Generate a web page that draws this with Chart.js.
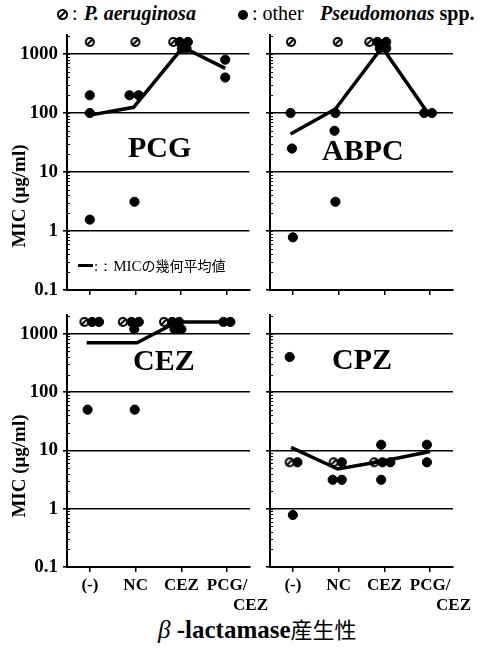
<!DOCTYPE html>
<html>
<head>
<meta charset="utf-8">
<title>MIC</title>
<script src="https://cdn.jsdelivr.net/npm/chart.js@4.4.1/dist/chart.umd.min.js"></script>
<style>
  body { margin: 0; width: 481px; height: 651px; background: #fff; position: relative; overflow: hidden; }
  canvas { position: absolute; }
  .t { position: absolute; white-space: nowrap; color: #000; font-family: "Liberation Serif", serif; line-height: 1; }
  .drug { font-size: 30px; font-weight: bold; }
  .ytitle { font-size: 19px; font-weight: bold; width: 140px; height: 20px; text-align: center; transform: rotate(-90deg); }
  .hat { display: inline-block; width: 7px; height: 7px; border: 2px solid #000; border-radius: 50%;
         background: linear-gradient(to bottom right, #fff 38%, #000 38%, #000 62%, #fff 62%); }
  .dot { display: inline-block; width: 10px; height: 10px; border-radius: 50%; background: #000; }
</style>
</head>
<body>

<div class="t" style="left:57px;top:3px;font-size:20px;"><span class="hat"></span></div>
<div class="t" style="left:72px;top:3px;font-size:20px;">:</div>
<div class="t" style="left:84px;top:3px;font-size:20px;font-weight:bold;font-style:italic;">P. aeruginosa</div>
<div class="t" style="left:238px;top:7px;"><span class="dot"></span></div>
<div class="t" style="left:252px;top:3px;font-size:20px;">: other</div>
<div class="t" style="left:320px;top:3px;font-size:20px;font-weight:bold;"><i>Pseudomonas</i> spp.</div>

<canvas id="pcgChart" width="255" height="275" style="left:0;top:25px"></canvas>
<canvas id="cezChart" width="285" height="305" style="left:0;top:305px"></canvas>
<canvas id="abpcChart" width="226" height="275" style="left:255px;top:25px"></canvas>
<canvas id="cpzChart" width="226" height="305" style="left:255px;top:305px"></canvas>

<div class="t drug" style="left:128px;top:132px;">PCG</div>
<div class="t drug" style="left:322px;top:135px;">ABPC</div>
<div class="t drug" style="left:133px;top:345px;">CEZ</div>
<div class="t drug" style="left:332px;top:344px;">CPZ</div>

<div class="t" style="left:78px;top:264px;width:15px;height:3px;background:#000;"></div>
<div class="t" style="left:94px;top:258px;font-size:15px;">:：MIC<span style="font-family:'Noto Sans CJK JP';font-size:14px;">の幾何平均値</span></div>

<div class="t ytitle" style="left:-51px;top:186px;">MIC (μg/ml)</div>
<div class="t ytitle" style="left:-51px;top:456px;">MIC (μg/ml)</div>

<div class="t" style="left:158px;top:617px;font-size:25px;"><i>β</i> <b>-lactamase</b><span style="font-family:'Noto Sans CJK JP';font-size:22px;">産生性</span></div>

<script>
var categories = ["(-)", "NC", "CEZ", ["PCG/", "           CEZ"]];
var yLabelValues = [0.1, 1, 10, 100, 1000];
var yMin = 0.1;
var yMax = 2100;

// PCG
var pcgAerugX = [0, 1, 1.83];
var pcgAerugY = [1600, 1600, 1600];
var pcgOtherX = [0, 0, 0, 0.87, 1.07, 0.98, 1.97, 2.15, 2.02, 2.12, 2.97, 2.97];
var pcgOtherY = [200, 100, 1.56, 200, 200, 3.13, 1600, 1600, 1250, 1250, 800, 400];
var pcgMeanX = [0, 0.96, 2.04, 2.97];
var pcgMeanY = [92, 125, 1300, 570];

// ABPC
var abpcAerugX = [-0.04, 0.98, 1.67];
var abpcAerugY = [1600, 1600, 1600];
var abpcOtherX = [-0.05, -0.02, 0, 0.93, 0.91, 0.93, 1.85, 2.04, 1.9, 2.04, 2.87, 3.04];
var abpcOtherY = [100, 25, 0.78, 100, 50, 3.13, 1600, 1600, 1250, 1250, 100, 100];
var abpcMeanX = [-0.05, 0.93, 1.95, 2.95];
var abpcMeanY = [44, 117, 1300, 100];

// CEZ
var cezAerugX = [-0.12, 0.72, 1.62];
var cezAerugY = [1600, 1600, 1600];
var cezOtherX = [0.05, 0.2, -0.05, 0.91, 1.07, 0.97, 0.98, 1.8, 1.95, 1.85, 2.0, 2.92, 3.07];
var cezOtherY = [1600, 1600, 50, 1600, 1600, 1200, 50, 1600, 1600, 1200, 1200, 1600, 1600];
var cezMeanX = [-0.07, 1.03, 1.9, 3.0];
var cezMeanY = [700, 700, 1600, 1600];

// CPZ
var cpzAerugX = [-0.07, 0.89, 1.78];
var cpzAerugY = [6.25, 6.25, 6.25];
var cpzOtherX = [-0.07, 0.1, 0, 1.07, 0.87, 1.07, 1.96, 2.13, 1.93, 1.93, 2.93, 2.93];
var cpzOtherY = [400, 6.25, 0.78, 6.25, 3.13, 3.13, 6.25, 6.25, 12.5, 3.13, 12.5, 6.25];
var cpzMeanX = [-0.04, 0.98, 1.95, 3.0];
var cpzMeanY = [11.3, 4.8, 6.5, 9.6];

// hatched marker for P. aeruginosa
var hatch = document.createElement('canvas');
hatch.width = 12;
hatch.height = 12;
var hc = hatch.getContext('2d');
hc.fillStyle = '#000';
hc.beginPath();
hc.arc(6, 6, 5, 0, Math.PI * 2);
hc.fill();
hc.fillStyle = '#fff';
hc.beginPath();
hc.arc(6, 6, 3, 0, Math.PI * 2);
hc.fill();
hc.strokeStyle = '#000';
hc.lineWidth = 2;
hc.beginPath();
hc.moveTo(3, 9);
hc.lineTo(9, 3);
hc.stroke();

function isMajor(v) {
    return yLabelValues.indexOf(v) >= 0;
}

function toPoints(xs, ys) {
    return xs.map(function(x, i) { return { x: x, y: ys[i] }; });
}

function yTicks() {
    var out = [];
    yLabelValues.forEach(function(d) {
        for (var m = 1; m <= 9; m++) {
            if (m * d <= yMax) out.push({ value: m * d });
        }
    });
    return out;
}

// short ticks on the inner side of the y axis
var innerTicks = {
    id: 'innerTicks',
    afterDraw: function(chart) {
        var ys = chart.scales.y;
        var ctx = chart.ctx;
        var x0 = chart.chartArea.left;
        ctx.save();
        ctx.strokeStyle = '#000';
        ctx.lineWidth = 1;
        ys.ticks.forEach(function(t) {
            var py = Math.round(ys.getPixelForValue(t.value)) + 0.5;
            ctx.beginPath();
            ctx.moveTo(x0, py);
            ctx.lineTo(x0 + 3, py);
            ctx.stroke();
        });
        ctx.restore();
    }
};

function makePanel(id, aerugX, aerugY, otherX, otherY, meanX, meanY, cfg) {
    return new Chart(document.getElementById(id), {
        type: 'scatter',
        data: {
            datasets: [
                {
                    label: 'mean',
                    data: toPoints(meanX, meanY),
                    showLine: true,
                    borderColor: '#000',
                    borderWidth: 3.5,
                    pointRadius: 0,
                    clip: false,
                    order: 0
                },
                {
                    label: 'P. aeruginosa',
                    data: toPoints(aerugX, aerugY),
                    pointStyle: hatch,
                    clip: false,
                    order: 2
                },
                {
                    label: 'other Pseudomonas spp.',
                    data: toPoints(otherX, otherY),
                    backgroundColor: '#000',
                    borderColor: '#000',
                    pointRadius: 4.6,
                    clip: false,
                    order: 1
                }
            ]
        },
        plugins: [innerTicks],
        options: {
            responsive: false,
            animation: false,
            events: [],
            layout: { padding: cfg.padding },
            plugins: { legend: { display: false }, tooltip: { enabled: false } },
            scales: {
                x: {
                    type: 'linear',
                    min: -0.5,
                    max: 3.5,
                    afterBuildTicks: function(s) {
                        s.ticks = categories.map(function(c, i) { return { value: i }; });
                    },
                    afterFit: function(s) {
                        s.height = cfg.xHeight;
                        s.paddingLeft = 0;
                        s.paddingRight = 0;
                    },
                    ticks: {
                        autoSkip: false,
                        maxRotation: 0,
                        padding: 3,
                        color: '#000',
                        font: { family: '"Liberation Serif"', weight: 'bold', size: 17 },
                        callback: function(v) { return cfg.xLabels ? categories[v] : ''; }
                    },
                    grid: { drawOnChartArea: false, drawTicks: true, tickLength: 5, color: '#000', lineWidth: 1.5 },
                    border: { color: '#000', width: 2 }
                },
                y: {
                    type: 'logarithmic',
                    min: yMin,
                    max: yMax,
                    afterBuildTicks: function(s) { s.ticks = yTicks(); },
                    afterFit: function(s) {
                        s.width = cfg.yWidth;
                        s.paddingTop = 0;
                        s.paddingBottom = 0;
                    },
                    ticks: {
                        autoSkip: false,
                        padding: 5,
                        color: '#000',
                        font: { family: '"Liberation Serif"', weight: 'bold', size: 19 },
                        callback: function(v) {
                            return cfg.yLabels && isMajor(v) ? String(v) : '';
                        }
                    },
                    grid: {
                        color: function(ctx) {
                            return ctx.tick && isMajor(ctx.tick.value) ? '#000' : 'rgba(0,0,0,0)';
                        },
                        tickColor: function(ctx) {
                            return ctx.tick && isMajor(ctx.tick.value) ? '#000' : 'rgba(0,0,0,0)';
                        },
                        lineWidth: 1.6,
                        tickLength: 4
                    },
                    border: { color: '#000', width: 2 }
                }
            }
        }
    });
}

makePanel('pcgChart', pcgAerugX, pcgAerugY, pcgOtherX, pcgOtherY, pcgMeanX, pcgMeanY,
    { padding: { top: 10, right: 5, left: 0, bottom: 0 }, yWidth: 67, xHeight: 10, yLabels: true, xLabels: false });
makePanel('abpcChart', abpcAerugX, abpcAerugY, abpcOtherX, abpcOtherY, abpcMeanX, abpcMeanY,
    { padding: { top: 10, right: 28, left: 0, bottom: 0 }, yWidth: 15, xHeight: 10, yLabels: false, xLabels: false });
makePanel('cezChart', cezAerugX, cezAerugY, cezOtherX, cezOtherY, cezMeanX, cezMeanY,
    { padding: { top: 10, right: 35, left: 0, bottom: 0 }, yWidth: 67, xHeight: 43, yLabels: true, xLabels: true });
makePanel('cpzChart', cpzAerugX, cpzAerugY, cpzOtherX, cpzOtherY, cpzMeanX, cpzMeanY,
    { padding: { top: 10, right: 28, left: 0, bottom: 0 }, yWidth: 15, xHeight: 43, yLabels: false, xLabels: true });
</script>
</body>
</html>
